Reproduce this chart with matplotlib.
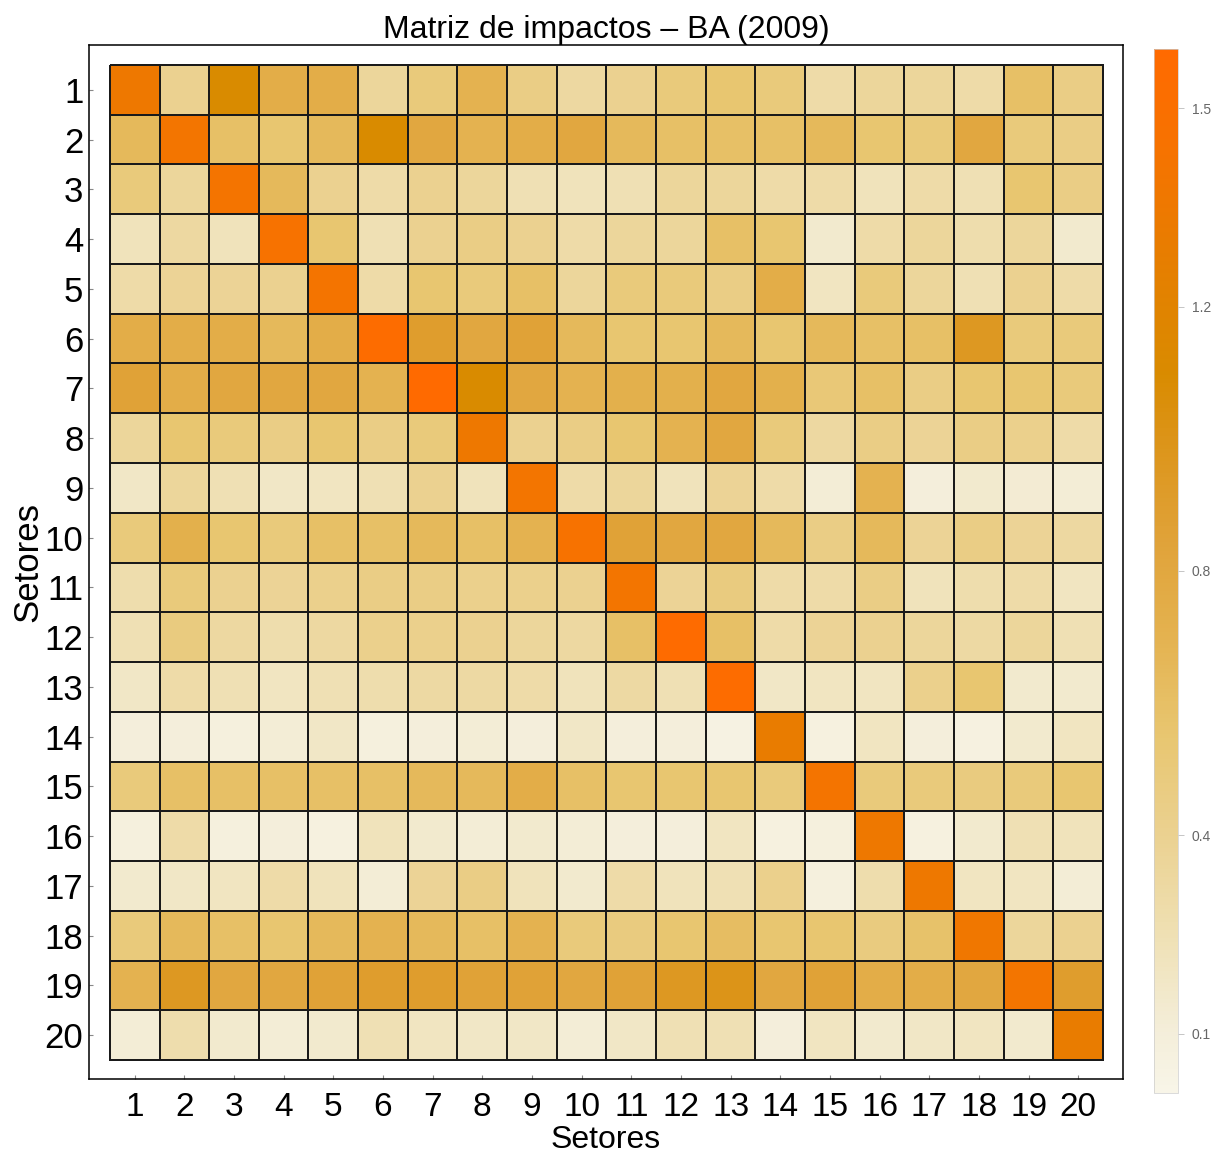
import numpy as np
import matplotlib
matplotlib.use("Agg")
import matplotlib.pyplot as plt
from matplotlib.colors import LinearSegmentedColormap, Normalize

plt.rcParams['font.family'] = ['Liberation Sans', 'DejaVu Sans']

setores = list(range(1, 21))

# impact coefficients, row i = setor i, column j = setor j
linha_01 = [1.35, 0.40, 1.10, 0.75, 0.75, 0.35, 0.50, 0.70, 0.45, 0.33, 0.40, 0.50, 0.55, 0.50, 0.30, 0.35, 0.35, 0.30, 0.60, 0.45]
linha_02 = [0.65, 1.40, 0.60, 0.55, 0.65, 1.10, 0.80, 0.70, 0.75, 0.80, 0.65, 0.60, 0.60, 0.60, 0.65, 0.55, 0.50, 0.80, 0.50, 0.45]
linha_03 = [0.50, 0.35, 1.42, 0.65, 0.40, 0.30, 0.40, 0.35, 0.25, 0.22, 0.25, 0.35, 0.35, 0.30, 0.30, 0.22, 0.30, 0.25, 0.55, 0.45]
linha_04 = [0.22, 0.33, 0.22, 1.45, 0.55, 0.25, 0.40, 0.45, 0.40, 0.30, 0.35, 0.35, 0.60, 0.55, 0.15, 0.30, 0.35, 0.28, 0.35, 0.15]
linha_05 = [0.30, 0.38, 0.38, 0.40, 1.42, 0.30, 0.55, 0.50, 0.60, 0.35, 0.50, 0.50, 0.45, 0.75, 0.20, 0.50, 0.35, 0.25, 0.40, 0.30]
linha_06 = [0.75, 0.75, 0.75, 0.65, 0.75, 1.55, 0.90, 0.80, 0.85, 0.65, 0.55, 0.55, 0.65, 0.55, 0.65, 0.60, 0.60, 0.95, 0.50, 0.50]
linha_07 = [0.85, 0.75, 0.80, 0.80, 0.80, 0.70, 1.59, 1.10, 0.80, 0.70, 0.72, 0.72, 0.80, 0.72, 0.52, 0.60, 0.45, 0.55, 0.55, 0.50]
linha_08 = [0.35, 0.55, 0.50, 0.45, 0.55, 0.45, 0.50, 1.35, 0.40, 0.45, 0.55, 0.70, 0.80, 0.50, 0.33, 0.45, 0.38, 0.45, 0.42, 0.30]
linha_09 = [0.18, 0.35, 0.25, 0.18, 0.20, 0.25, 0.40, 0.22, 1.40, 0.30, 0.35, 0.22, 0.38, 0.30, 0.12, 0.70, 0.10, 0.15, 0.13, 0.12]
linha_10 = [0.50, 0.72, 0.55, 0.50, 0.60, 0.60, 0.65, 0.60, 0.70, 1.45, 0.85, 0.80, 0.80, 0.65, 0.45, 0.65, 0.38, 0.45, 0.38, 0.33]
linha_11 = [0.28, 0.50, 0.40, 0.38, 0.42, 0.45, 0.45, 0.42, 0.42, 0.40, 1.40, 0.38, 0.48, 0.30, 0.30, 0.45, 0.22, 0.28, 0.30, 0.20]
linha_12 = [0.25, 0.48, 0.33, 0.28, 0.33, 0.42, 0.42, 0.40, 0.35, 0.33, 0.60, 1.57, 0.60, 0.30, 0.38, 0.40, 0.35, 0.32, 0.35, 0.25]
linha_13 = [0.18, 0.30, 0.25, 0.20, 0.25, 0.28, 0.32, 0.32, 0.30, 0.22, 0.32, 0.25, 1.55, 0.18, 0.20, 0.20, 0.42, 0.55, 0.15, 0.15]
linha_14 = [0.10, 0.10, 0.08, 0.12, 0.18, 0.08, 0.10, 0.12, 0.10, 0.18, 0.10, 0.10, 0.05, 1.30, 0.07, 0.20, 0.10, 0.06, 0.15, 0.20]
linha_15 = [0.50, 0.60, 0.60, 0.60, 0.60, 0.60, 0.65, 0.65, 0.75, 0.60, 0.55, 0.55, 0.55, 0.50, 1.42, 0.50, 0.50, 0.48, 0.50, 0.55]
linha_16 = [0.08, 0.30, 0.08, 0.10, 0.07, 0.22, 0.15, 0.12, 0.15, 0.12, 0.10, 0.10, 0.20, 0.07, 0.08, 1.35, 0.07, 0.15, 0.25, 0.22]
linha_17 = [0.15, 0.18, 0.20, 0.30, 0.22, 0.12, 0.38, 0.45, 0.22, 0.15, 0.30, 0.22, 0.25, 0.42, 0.08, 0.28, 1.35, 0.20, 0.20, 0.12]
linha_18 = [0.50, 0.65, 0.60, 0.55, 0.65, 0.70, 0.65, 0.60, 0.70, 0.50, 0.48, 0.55, 0.62, 0.55, 0.55, 0.48, 0.58, 1.38, 0.35, 0.40]
linha_19 = [0.70, 0.95, 0.80, 0.80, 0.85, 0.90, 0.90, 0.85, 0.85, 0.80, 0.85, 0.95, 1.00, 0.80, 0.85, 0.75, 0.75, 0.80, 1.40, 0.90]
linha_20 = [0.12, 0.28, 0.15, 0.12, 0.15, 0.25, 0.20, 0.18, 0.18, 0.12, 0.18, 0.25, 0.25, 0.10, 0.20, 0.15, 0.18, 0.20, 0.15, 1.30]

cbar_ticks = [0.1, 0.4, 0.8, 1.2, 1.5]
vmin, vmax = 0.01, 1.59

matriz = np.array([linha_01, linha_02, linha_03, linha_04, linha_05,
                   linha_06, linha_07, linha_08, linha_09, linha_10,
                   linha_11, linha_12, linha_13, linha_14, linha_15,
                   linha_16, linha_17, linha_18, linha_19, linha_20])

# cream -> tan -> dark gold -> bright orange gradient
stops = [(0.01, '#F8F5E8'), (0.10, '#F4EEDA'), (0.25, '#EFE0B3'),
         (0.40, '#EBD190'), (0.55, '#E8C670'), (0.70, '#E4B250'),
         (0.85, '#E0A238'), (1.00, '#DC9418'), (1.10, '#D98B00'),
         (1.30, '#E97C00'), (1.45, '#F77200'), (1.59, '#FF6A00')]
cmap = LinearSegmentedColormap.from_list(
    'impactos', [((v - vmin) / (vmax - vmin), c) for v, c in stops])

fig = plt.figure(figsize=(12.14, 11.55), dpi=100)
ax = fig.add_axes([0.0733, 0.0658, 0.8517, 0.8952])

edges = np.arange(0.5, 21.5, 1.0)
im = ax.pcolormesh(edges, edges, matriz, cmap=cmap,
                   norm=Normalize(vmin=vmin, vmax=vmax),
                   edgecolors='#1a1a1a', linewidth=1.1)

ax.set_xlim(0.08, 20.9)
ax.set_ylim(20.88, 0.1)
ax.set_xticks(setores)
ax.set_yticks(setores)
ax.set_yticklabels([str(s) for s in setores], fontsize=25)
ax.set_xticklabels([str(s) for s in setores], fontsize=24)
ax.tick_params(axis='both', direction='in', length=3, width=0.8,
               color='#888888')
ax.tick_params(axis='x', pad=9)
ax.tick_params(axis='y', pad=4)
for sp in ax.spines.values():
    sp.set_linewidth(1.1)

ax.set_title('Matriz de impactos \u2013 BA (2009)', fontsize=23, pad=3)
ax.set_xlabel('Setores', fontsize=23, labelpad=2)
ax.set_ylabel('Setores', fontsize=25, labelpad=0)

cax = fig.add_axes([0.9506, 0.0537, 0.0198, 0.9039])
cb = fig.colorbar(im, cax=cax, ticks=cbar_ticks)
cb.ax.set_yticklabels([str(t) for t in cbar_ticks])
cb.ax.tick_params(labelsize=10, length=4, width=0.6, color='#bbbbbb',
                  labelcolor='#666666', pad=6)
cb.outline.set_linewidth(0.5)
cb.outline.set_edgecolor('#cccccc')

fig.savefig('out.png', dpi=100)
